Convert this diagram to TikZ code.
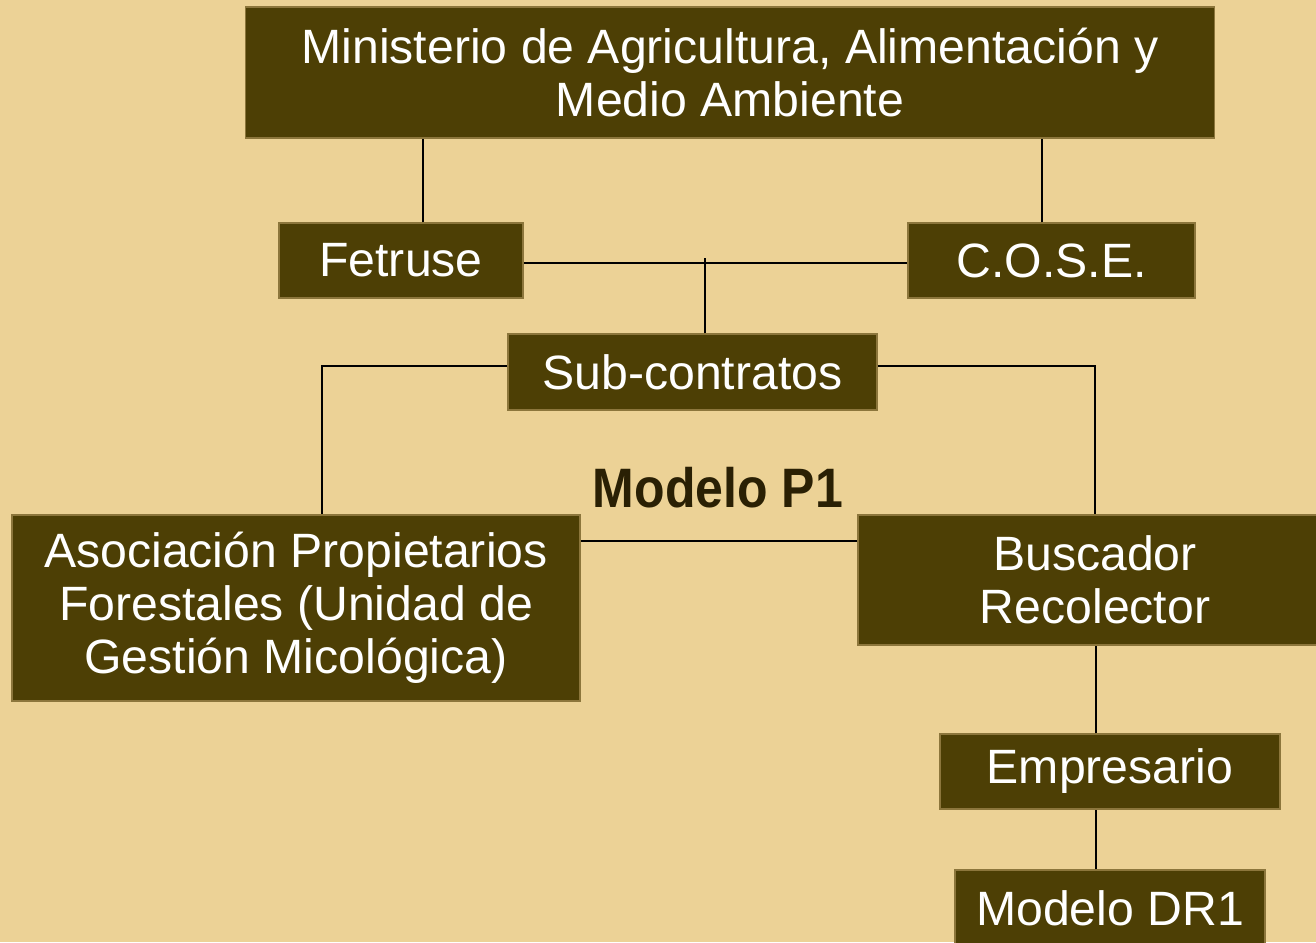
\documentclass[tikz,border=0pt]{standalone}
\usepackage{fontspec}
\setmainfont{Liberation Sans}
\usepackage{graphicx}
\usepackage{xcolor}
\usepackage{tikz}

\definecolor{parchment}{RGB}{236,210,150}
\definecolor{boxbrown}{RGB}{77,63,5}
\definecolor{boxedge}{RGB}{140,118,60}
\definecolor{darklabel}{RGB}{42,32,4}

\tikzset{
    orgbox/.style={fill=boxbrown, draw=boxedge, line width=0.4pt, text=white,
        align=center, inner sep=0pt, font=\fontsize{13.7}{15.1}\selectfont},
    link/.style={draw=black, line width=0.5pt}
}

\begin{document}
\begin{tikzpicture}[x=0.01cm, y=-0.01cm]
            \fill[parchment] (0, 0) rectangle (1316, 942);
            \useasboundingbox (0, 0) rectangle (1316, 942);

            \node[orgbox, minimum width=9.68cm, minimum height=1.31cm] (mapama) at (730, 72.5)
                {Ministerio de Agricultura, Alimentación y\\Medio Ambiente};
            \node[orgbox, minimum width=2.44cm, minimum height=0.75cm] (fetruse) at (401, 260.5) {Fetruse};
            \node[orgbox, minimum width=2.87cm, minimum height=0.75cm] (cose) at (1051.5, 260.5) {C.O.S.E.};
            \node[orgbox, minimum width=3.69cm, minimum height=0.76cm] (subcon) at (692.5, 372) {Sub-contratos};
            \node[orgbox, minimum width=5.68cm, minimum height=1.86cm] (asoc) at (296, 608)
                {Asociación Propietarios\\Forestales (Unidad de\\Gestión Micológica)};
            \node[orgbox, minimum width=4.74cm, minimum height=1.30cm] (buscador) at (1095, 580)
                {\raisebox{0.04cm}{\parbox{4cm}{\centering Buscador\\Recolector}}};
            \node[orgbox, minimum width=3.40cm, minimum height=0.75cm] (empresario) at (1110, 771.5) {Empresario};
            \node[orgbox, minimum width=3.10cm, minimum height=0.76cm] (dr1) at (1110, 908) {Modelo DR1};

            \node[text=darklabel, font=\fontsize{15.8}{18}\selectfont] (p1) at (718, 488)
                {\scalebox{0.9}[1]{\bfseries Modelo P1}};

            \draw[link] ([xshift=0.22cm]fetruse.north) -- ([xshift=0.22cm]fetruse.north |- mapama.south); % ministerio-fetruse
            \draw[link] ([xshift=-0.095cm]cose.north) -- ([xshift=-0.095cm]cose.north |- mapama.south); % ministerio-cose
            \draw[link] ([yshift=-0.025cm]fetruse.east) -- ([yshift=-0.025cm]cose.west); % fetruse-cose
            \draw[link] ([xshift=0.125cm]subcon.north) -- ([xshift=0.125cm, yshift=0.03cm]subcon.north |- fetruse.east); % sub-contratos
            \draw[link] ([yshift=0.06cm]subcon.west) -| ([xshift=0.26cm]asoc.north); % sub-asociacion
            \draw[link] ([yshift=0.06cm]subcon.east) -| (buscador.north); % sub-buscador
            \draw[link] ([yshift=0.39cm]buscador.west) -- ([yshift=0.39cm]buscador.west -| asoc.east); % asociacion-buscador
            \draw[link] ([xshift=-0.14cm]empresario.north) -- ([xshift=-0.14cm]empresario.north |- buscador.south); % buscador-empresario
            \draw[link] ([xshift=-0.14cm]dr1.north) -- ([xshift=-0.14cm]dr1.north |- empresario.south); % empresario-dr1
        \end{tikzpicture}
\end{document}
